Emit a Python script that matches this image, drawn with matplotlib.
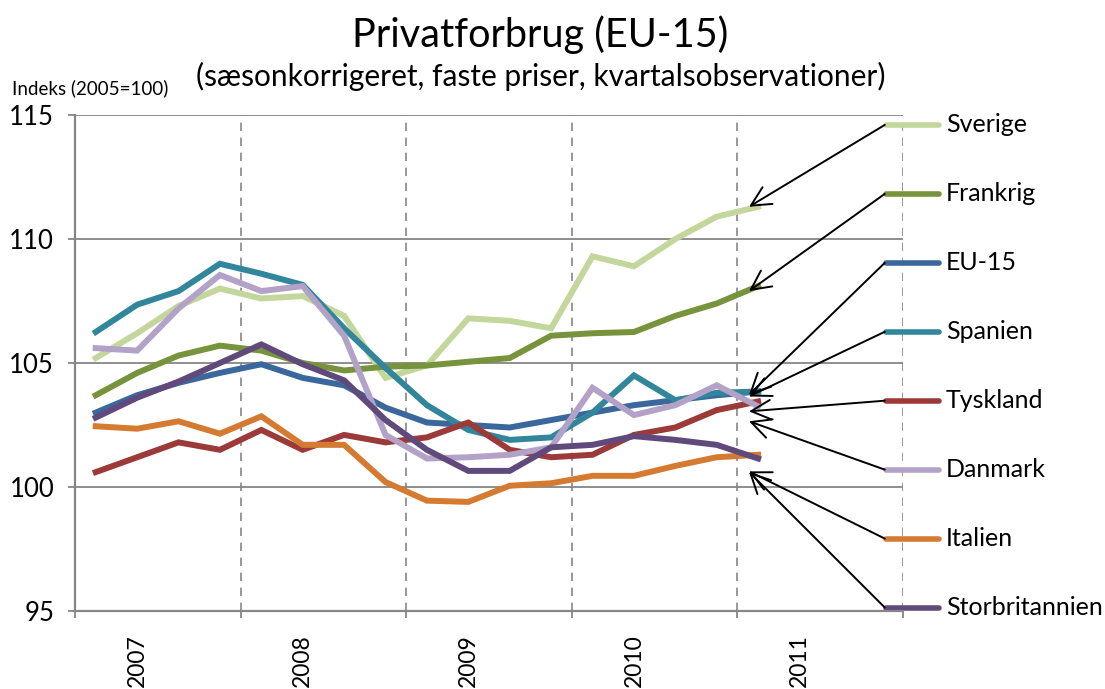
import numpy as np
import matplotlib
matplotlib.use("Agg")
import matplotlib.pyplot as plt

plt.rcParams['font.family'] = ['Lato', 'DejaVu Sans']

# quarterly index values, 2007Q1 .. 2011Q1
years = ['2007', '2008', '2009', '2010', '2011']
names = ['Sverige', 'Frankrig', 'EU-15', 'Spanien', 'Tyskland', 'Danmark', 'Italien', 'Storbritannien']

sverige = [105.2, 106.2, 107.3, 108.0, 107.6, 107.7, 106.9, 104.4, 104.9, 106.8, 106.7, 106.4, 109.3, 108.9, 110.0, 110.9, 111.3]
frankrig = [103.7, 104.6, 105.3, 105.7, 105.5, 105.0, 104.7, 104.85, 104.9, 105.05, 105.2, 106.1, 106.2, 106.25, 106.9, 107.4, 108.1]
eu15 = [103.0, 103.7, 104.2, 104.6, 104.95, 104.4, 104.1, 103.2, 102.6, 102.5, 102.4, 102.7, 103.0, 103.3, 103.5, 103.7, 103.85]
spanien = [106.25, 107.35, 107.9, 109.0, 108.6, 108.15, 106.4, 104.8, 103.3, 102.3, 101.9, 102.0, 103.0, 104.5, 103.5, 103.8, 103.85]
tyskland = [100.6, 101.2, 101.8, 101.5, 102.3, 101.5, 102.1, 101.8, 102.0, 102.6, 101.5, 101.2, 101.3, 102.1, 102.4, 103.1, 103.45]
danmark = [105.6, 105.5, 107.2, 108.55, 107.9, 108.1, 106.1, 102.1, 101.15, 101.2, 101.3, 101.6, 104.0, 102.9, 103.3, 104.1, 103.25]
italien = [102.45, 102.35, 102.65, 102.15, 102.85, 101.7, 101.7, 100.2, 99.45, 99.4, 100.05, 100.15, 100.45, 100.45, 100.85, 101.2, 101.3]
storbritannien = [102.8, 103.6, 104.25, 105.0, 105.75, 104.95, 104.3, 102.7, 101.5, 100.65, 100.65, 101.6, 101.7, 102.05, 101.9, 101.7, 101.15]

series = [sverige, frankrig, eu15, spanien, tyskland, danmark, italien, storbritannien]
colors = ['#c3d69b', '#77933c', '#3a679c', '#31869b', '#9b3a38', '#b3a2c7', '#d57b31', '#604a7b']
draw_order = [6, 4, 2, 3, 1, 0, 5, 7]
# little vertical nudge of each arrow tip relative to last point
tip_dy = [0.0, -0.2, -0.13, -0.2, -0.4, -0.6, -0.67, -0.54]

fig = plt.figure(figsize=(11.05, 6.89), dpi=100)
ax = fig.add_axes([0.0679, 0.1132, 0.7493, 0.7199])

x = np.arange(len(sverige))
for k in draw_order:
    ax.plot(x, series[k], color=colors[k], lw=4.3, solid_joinstyle='miter', zorder=3 + k * 0.1)

grid_c = '#868686'
ax.set_xlim(-0.5, 19.5)
ax.set_ylim(95, 115)
ax.set_yticks([95, 100, 105, 110, 115])
for v in [100, 105, 110, 115]:
    ax.axhline(v, color=grid_c, lw=1.3, zorder=1)
for b in [3.5, 7.5, 11.5, 15.5, 19.5]:
    ax.axvline(b, color=grid_c, lw=1.2, ls=(0, (5, 4)), zorder=1)

ax.set_xticks([-0.5, 3.5, 7.5, 11.5, 15.5, 19.5])
ax.set_xticklabels([])
# year labels sit a bit left of the middle of each year, as in the original
ax.set_xticks([1.0, 5.0, 9.0, 13.0, 17.0], minor=True)
ax.set_xticklabels(years, minor=True, rotation=90, fontsize=16.5)
ax.tick_params(axis='x', which='minor', length=0, pad=17)
ax.tick_params(axis='x', which='major', length=5, color=grid_c, width=1.3)
ax.tick_params(axis='y', length=5, color=grid_c, width=1.3, labelsize=18.5, pad=10)

for s in ['top', 'right']:
    ax.spines[s].set_visible(False)
for s in ['left', 'bottom']:
    ax.spines[s].set_color(grid_c)
    ax.spines[s].set_linewidth(1.6)

# legend with arrows to the line ends
y0, step = 0.98, 0.139
for k, name in enumerate(names):
    yk = y0 - k * step
    ax.plot([0.98, 1.043], [yk, yk], transform=ax.transAxes, color=colors[k],
            lw=4, solid_capstyle='round', clip_on=False)
    ax.text(1.052, yk, name, transform=ax.transAxes, fontsize=18, va='center', ha='left')
    ax.annotate('', xy=(x[-1] - 0.22, series[k][-1] + tip_dy[k]), xycoords='data',
                xytext=(0.978, yk), textcoords='axes fraction',
                arrowprops=dict(arrowstyle='->, head_length=0.7, head_width=0.35',
                                mutation_scale=20, color='black', lw=1.4,
                                shrinkA=0, shrinkB=0),
                annotation_clip=False, zorder=6)

fig.text(0.489, 0.95, 'Privatforbrug (EU-15)', fontsize=28.5, ha='center', va='center')
fig.text(0.489, 0.889, '(sæsonkorrigeret, faste priser, kvartalsobservationer)',
         fontsize=21.5, ha='center', va='center')
fig.text(0.011, 0.872, 'Indeks (2005=100)', fontsize=13.5, ha='left', va='center')

fig.savefig('out.png', dpi=100)
